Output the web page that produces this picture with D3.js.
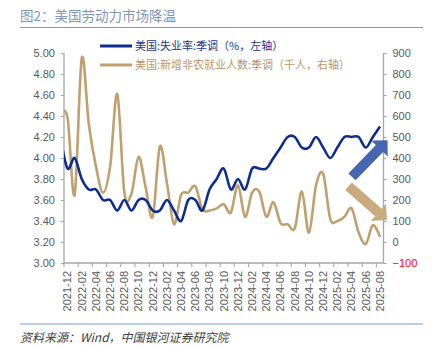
<!DOCTYPE html>
<html>
<head>
<meta charset="utf-8">
<script src="https://cdn.jsdelivr.net/npm/d3@7"></script>
<style>
  body { margin: 0; background: #fff; }
  svg { display: block; font-family: "Liberation Sans", Arial, sans-serif; }
  .cjk { font-family: "Noto Sans CJK SC", sans-serif; }
</style>
</head>
<body>
<div id="chart"></div>
<script>
// Monthly series; the first month sits just left of the plot and is clipped
const months = ["2021-11", "2021-12",
  "2022-01", "2022-02", "2022-03", "2022-04", "2022-05", "2022-06",
  "2022-07", "2022-08", "2022-09", "2022-10", "2022-11", "2022-12",
  "2023-01", "2023-02", "2023-03", "2023-04", "2023-05", "2023-06",
  "2023-07", "2023-08", "2023-09", "2023-10", "2023-11", "2023-12",
  "2024-01", "2024-02", "2024-03", "2024-04", "2024-05", "2024-06",
  "2024-07", "2024-08", "2024-09", "2024-10", "2024-11", "2024-12",
  "2025-01", "2025-02", "2025-03", "2025-04", "2025-05", "2025-06",
  "2025-07", "2025-08"];

// US unemployment rate, SA (%)
const unemployment = [4.2, 3.9,
  4.0, 3.8, 3.7, 3.7, 3.6, 3.6, 3.5, 3.6, 3.5, 3.6, 3.6, 3.5,
  3.5, 3.6, 3.5, 3.4, 3.6, 3.6, 3.5, 3.7, 3.8, 3.9, 3.7, 3.8,
  3.7, 3.9, 3.9, 3.9, 4.0, 4.1, 4.2, 4.2, 4.1, 4.1, 4.2, 4.1,
  4.0, 4.1, 4.2, 4.2, 4.2, 4.1, 4.2, 4.3];

// US nonfarm payroll change, SA (thousands)
const payrolls = [615, 590,
  225, 875, 560, 360, 235, 360, 705, 235, 230, 405, 260, 120,
  455, 280, 85, 225, 235, 265, 155, 150, 160, 180, 140, 270,
  120, 235, 240, 120, 190, 90, 85, 65, 240, 45, 270, 325,
  110, 100, 120, 160, 45, -10, 80, 25];

const leftTicks = [3.0, 3.2, 3.4, 3.6, 3.8, 4.0, 4.2, 4.4, 4.6, 4.8, 5.0];
const rightTicks = [-100, 0, 100, 200, 300, 400, 500, 600, 700, 800, 900];
const xTickLabels = months.filter((m, i) => i % 2 === 1);

const legendLabels = ["美国:失业率:季调（%，左轴）",
                      "美国:新增非农就业人数:季调（千人，右轴）"];
const titleText = "图2：美国劳动力市场降温";
const sourceText = "资料来源：Wind，中国银河证券研究院";

const blue = "#0d2d8f";
const tan = "#c0a06e";
const axisGrey = "#a6a6a6";
const labelGrey = "#595959";

function drawChart() {
    const width = 432, height = 346;
    const margin = {top: 53, right: 48.5, bottom: 83, left: 64};
    const plotW = width - margin.left - margin.right;
    const plotH = height - margin.top - margin.bottom;

    const svg = d3.select("#chart").html("")
        .append("svg")
        .attr("width", width)
        .attr("height", height);

    // Title and rules
    svg.append("text")
        .attr("class", "cjk")
        .attr("x", 20).attr("y", 21)
        .attr("font-size", "13.5px")
        .attr("fill", "#8396b8")
        .text(titleText);
    svg.append("line")
        .attr("x1", 20).attr("x2", 423)
        .attr("y1", 27.5).attr("y2", 27.5)
        .attr("stroke", "#7b9bd0").attr("stroke-width", 1.2);
    svg.append("line")
        .attr("x1", 20).attr("x2", 423)
        .attr("y1", 324).attr("y2", 324)
        .attr("stroke", "#7b9bd0").attr("stroke-width", 1.2);
    svg.append("text")
        .attr("class", "cjk")
        .attr("x", 20).attr("y", 342)
        .attr("font-size", "12px")
        .attr("font-style", "italic")
        .attr("fill", "#404040")
        .text(sourceText);

    const chart = svg.append("g")
        .attr("transform", `translate(${margin.left}, ${margin.top})`);

    // Scales: one band per month, the leading month falls left of zero
    const step = plotW / (months.length - 1);
    const xScale = d3.scaleBand()
        .domain(months)
        .range([-step, plotW]);
    const xMid = m => xScale(m) + xScale.bandwidth() / 2;

    const yLeft = d3.scaleLinear().domain([3, 5]).range([plotH, 0]);
    const yRight = d3.scaleLinear().domain([-100, 900]).range([plotH, 0]);

    // Axes
    const leftAxis = chart.append("g")
        .call(d3.axisLeft(yLeft).tickValues(leftTicks).tickFormat(d3.format(".2f"))
            .tickSize(3).tickPadding(6));
    const rightAxis = chart.append("g")
        .attr("transform", `translate(${plotW}, 0)`)
        .call(d3.axisRight(yRight).tickValues(rightTicks).tickSize(3).tickPadding(6));
    const bottomAxis = chart.append("g")
        .attr("transform", `translate(0, ${plotH})`)
        .call(d3.axisBottom(xScale).tickValues(xTickLabels).tickSize(4).tickPadding(4));

    [leftAxis, rightAxis, bottomAxis].forEach(ax => {
        ax.select(".domain").attr("stroke", axisGrey).attr("stroke-width", 1.3);
        ax.selectAll(".tick line").attr("stroke", axisGrey).attr("stroke-width", 1.1);
        ax.selectAll("text")
            .attr("fill", labelGrey)
            .style("font-size", "11px")
            .style("font-family", "'Liberation Sans', Arial, sans-serif");
    });
    leftAxis.select(".domain").attr("d", `M-0,${plotH}V0`);
    rightAxis.select(".domain").attr("d", `M0,${plotH}V0`);
    bottomAxis.select(".domain").attr("d", `M0,0H${plotW}`);
    rightAxis.selectAll("text").filter(d => d < 0).attr("fill", "#ff0000");

    // month ticks sit on band edges, labels stay on band centres
    bottomAxis.selectAll(".tick line")
        .attr("transform", `translate(${-step / 2}, 0)`);
    bottomAxis.selectAll(".tick text")
        .attr("text-anchor", "end")
        .attr("dy", "0.35em")
        .attr("x", -8)
        .attr("y", 0)
        .attr("transform", "rotate(-90)");

    // Lines
    chart.append("clipPath").attr("id", "plot-clip")
        .append("rect").attr("x", 0).attr("y", -10)
        .attr("width", plotW).attr("height", plotH + 20);

    const payrollLine = d3.line()
        .x((d, i) => xMid(months[i]))
        .y(d => yRight(d))
        .curve(d3.curveCardinal.tension(0));
    const rateLine = d3.line()
        .x((d, i) => xMid(months[i]))
        .y(d => yLeft(d))
        .curve(d3.curveCardinal.tension(0));

    const lines = chart.append("g").attr("clip-path", "url(#plot-clip)");
    lines.append("path")
        .datum(payrolls)
        .attr("d", payrollLine)
        .attr("fill", "none")
        .attr("stroke", tan)
        .attr("stroke-width", 2.6);
    lines.append("path")
        .datum(unemployment)
        .attr("d", rateLine)
        .attr("fill", "none")
        .attr("stroke", blue)
        .attr("stroke-width", 2.6);

    // Trend arrows on the right edge
    function blockArrow(x0, y0, x1, y1, shaftW, headW, headL) {
        const len = Math.hypot(x1 - x0, y1 - y0);
        const ux = (x1 - x0) / len, uy = (y1 - y0) / len;
        const px = -uy, py = ux;
        const bx = x1 - ux * headL, by = y1 - uy * headL;
        const pts = [
            [x0 + px * shaftW / 2, y0 + py * shaftW / 2],
            [bx + px * shaftW / 2, by + py * shaftW / 2],
            [bx + px * headW / 2, by + py * headW / 2],
            [x1, y1],
            [bx - px * headW / 2, by - py * headW / 2],
            [bx - px * shaftW / 2, by - py * shaftW / 2],
            [x0 - px * shaftW / 2, y0 - py * shaftW / 2]
        ];
        return "M" + pts.map(p => p.join(",")).join("L") + "Z";
    }
    chart.append("path")
        .attr("d", blockArrow(plotW - 31.5, yLeft(3.82), plotW + 4, yLeft(4.17), 10, 23, 11.5))
        .attr("fill", "#4766b2");
    chart.append("path")
        .attr("d", blockArrow(plotW - 35, yLeft(3.73), plotW + 3.5, yLeft(3.41), 10, 23, 11.5))
        .attr("fill", "#c9ab80");

    // Legend
    const legend = svg.append("g");
    [[blue, legendLabels[0], 46], [tan, legendLabels[1], 65]].forEach(([color, label, y]) => {
        legend.append("line")
            .attr("x1", 100).attr("x2", 132)
            .attr("y1", y).attr("y2", y)
            .attr("stroke", color).attr("stroke-width", 3);
        legend.append("text")
            .attr("class", "cjk")
            .attr("x", 135).attr("y", y + 4)
            .attr("font-size", "11px")
            .attr("fill", color === blue ? "#1a3590" : "#b8976a")
            .text(label);
    });
}

drawChart();
</script>
</body>
</html>
